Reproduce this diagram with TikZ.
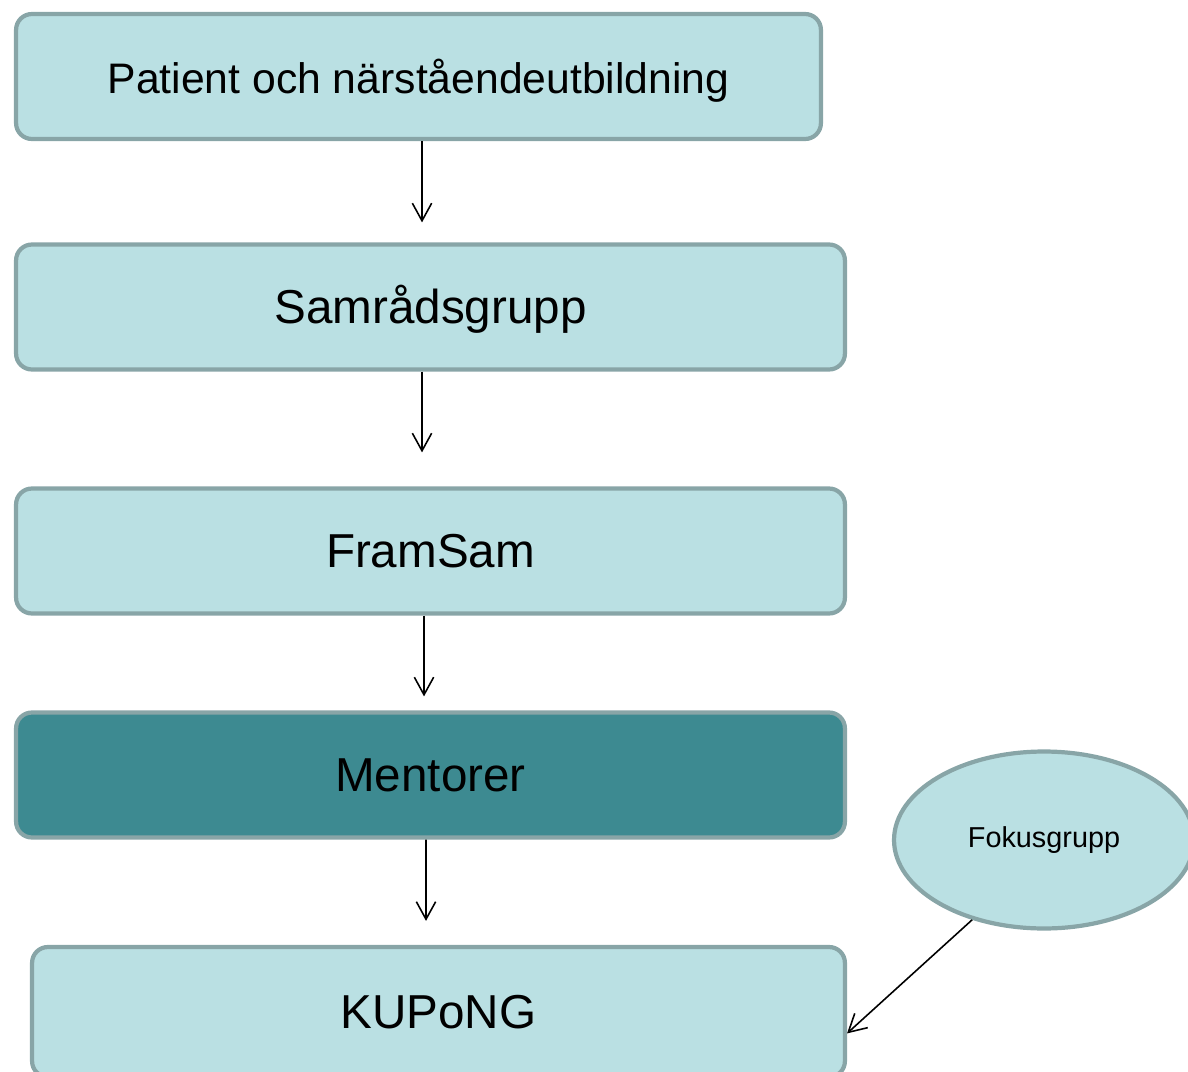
\documentclass[tikz,border=0pt]{standalone}
\usepackage{fontspec}
\setmainfont{Liberation Sans}
\usetikzlibrary{shapes.geometric,arrows.meta}
\definecolor{boxfill}{HTML}{BAE0E3}
\definecolor{boxline}{HTML}{88A5A7}
\definecolor{darkfill}{HTML}{3D8A91}

\begin{document}
\begin{tikzpicture}[x=0.02cm,y=-0.02cm,
  stage/.style={rectangle,rounded corners=9pt,draw=boxline,fill=boxfill,line width=2.4pt,minimum width=16.58cm,minimum height=2.5cm,text height=21.3pt,text depth=2pt,font=\fontsize{27.1}{30}\selectfont},
  focus/.style={ellipse,draw=boxline,fill=boxfill,line width=2.4pt,minimum width=6cm,minimum height=3.54cm,inner sep=0pt,font=\fontsize{16.4}{19}\selectfont},
  arr/.style={-{Straight Barb[length=10pt,width=11pt]},line width=0.9pt}]
  \useasboundingbox (0,0) rectangle (1188,1072);
  \clip (0,0) rectangle (1188,1072);
  \node (n1) at (418.5,76.5) [stage,minimum width=16.1cm,font=\fontsize{24.3}{28}\selectfont] {Patient och närståendeutbildning};
  \node (n2) at (430.5,307) [stage] {Samrådsgrupp};
  \node (n3) at (430.5,551) [stage] {FramSam};
  \node (n4) at (430.5,775) [stage,fill=darkfill] {Mentorer};
  \node (n5) at (438.5,1012) [stage,minimum width=16.26cm,minimum height=2.6cm] {KUPoNG};
  \node (f1) at (1044,840) [focus] {Fokusgrupp};
  \draw[arr] ([xshift=0.07cm]n1.south) -- ([xshift=-0.17cm,yshift=0.4cm]n2.north);
  \draw[arr] ([xshift=-0.17cm]n2.south) -- ([xshift=-0.17cm,yshift=0.68cm]n3.north);
  \draw[arr] ([xshift=-0.13cm]n3.south) -- ([xshift=-0.13cm,yshift=0.28cm]n4.north);
  \draw[arr] ([xshift=-0.09cm]n4.south) -- ([xshift=-0.25cm,yshift=0.48cm]n5.north);
  \draw[arr] (f1.228) -- (n5.-3.3);
\end{tikzpicture}
\end{document}
